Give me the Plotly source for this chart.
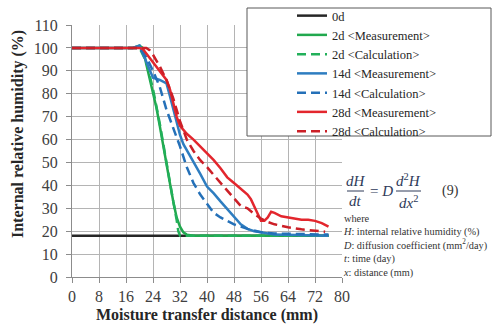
import plotly.graph_objects as go

# ---------------- data ----------------
x_0d = [0, 76]
y_0d = [18, 18]

x_2d_meas = [0, 18, 20, 21, 22, 23, 24, 25, 26, 27, 28, 29, 30, 31, 32, 33, 34, 36, 76]
y_2d_meas = [100, 100, 101, 100, 93, 87, 81, 74, 66, 57, 50, 41, 33, 26, 22, 19.5, 18.5, 18, 18]

x_2d_calc = [0, 20, 22, 24, 26, 28, 30, 31, 31.5, 32, 34, 76]
y_2d_calc = [100, 100, 94, 82, 67, 49, 33, 25, 20, 18, 18, 18]

x_14d_meas = [0, 18, 20, 22, 24, 26, 28, 29, 30, 31, 32, 33, 34, 36, 38, 40, 42, 44, 46, 48, 50, 52, 54, 56, 60, 76]
y_14d_meas = [100, 100, 101, 94, 87, 86, 84.5, 79, 73, 67, 62, 58, 55.5, 50, 45, 39.5, 36.5, 33, 29.5, 26, 23, 21, 20, 19.5, 18.5, 18]

x_14d_calc = [0, 20, 22, 24, 26, 28, 30, 32, 34, 36, 38, 40, 42, 44, 46, 48, 50, 52, 56, 60, 76]
y_14d_calc = [100, 100, 96, 90, 83, 73, 65, 57, 48, 41, 36, 32, 28, 26, 24.5, 23, 22, 21, 19.5, 19, 18.5]

x_28d_meas = [0, 20, 21, 22, 24, 26, 28, 29, 30, 31, 32, 34, 36, 38, 40, 42, 44, 46, 48, 50, 52, 53, 54, 55, 56, 57, 58, 59, 60, 62, 64, 66, 68, 70, 72, 74, 76]
y_28d_meas = [100, 100, 99.5, 97.5, 94, 90, 86, 82, 76, 70, 66, 62.5, 60, 57, 54, 51, 47.5, 43.5, 41, 38.5, 36, 34, 31, 27.5, 24.5, 24.5, 26, 28.5, 28, 26.5, 26, 25.5, 25, 25, 24.5, 23.5, 22]

x_28d_calc = [0, 22, 23, 24, 26, 28, 30, 32, 34, 36, 38, 40, 42, 44, 46, 48, 50, 52, 54, 56, 58, 60, 64, 68, 72, 75]
y_28d_calc = [100, 100, 99, 97, 92, 86, 78, 68, 60, 55, 51, 48, 44.5, 41, 37.5, 34, 31, 30, 27.5, 25.5, 24, 23, 21.7, 20.8, 20.3, 19.8]

x_ticks = [0, 8, 16, 24, 32, 40, 48, 56, 64, 72, 80]
y_ticks = [0, 10, 20, 30, 40, 50, 60, 70, 80, 90, 100, 110]

series = [
    ("0d", x_0d, y_0d, "#262626", "solid"),
    ("2d <Measurement>", x_2d_meas, y_2d_meas, "#21a84e", "solid"),
    ("2d <Calculation>", x_2d_calc, y_2d_calc, "#22b05a", "9px,5px"),
    ("14d <Measurement>", x_14d_meas, y_14d_meas, "#2e7dc0", "solid"),
    ("14d <Calculation>", x_14d_calc, y_14d_calc, "#2470b8", "9px,5px"),
    ("28d <Measurement>", x_28d_meas, y_28d_meas, "#e3262d", "solid"),
    ("28d <Calculation>", x_28d_calc, y_28d_calc, "#cc1f27", "9px,5px"),
]

# ---------------- layout helpers ----------------
W, H = 492, 327
L, R, T, B = 72, 0, 0, 50           # paper area: x 72..492, y 0..277
PLOT_R, PLOT_T = 342, 25            # plot area pixel extent
PW, PH = W - L - R, H - T - B


def px(x):
    return (x - L) / PW


def py(y):
    return (H - B - y) / PH


fig = go.Figure()
for name, xs, ys, col, dash in series:
    fig.add_trace(go.Scatter(x=xs, y=ys, mode="lines", name=name,
                             line=dict(color=col, width=2.5, dash=dash)))

serif = "Liberation Serif"
axcol = "#8c8c8c"
fig.update_xaxes(range=[0, 80], tickvals=x_ticks, showgrid=True, gridcolor="#b4b4b4",
                 domain=[0, px(PLOT_R)], automargin=False,
                 gridwidth=1, showline=True, linecolor=axcol, ticks="outside",
                 ticklen=5, tickcolor=axcol, zeroline=False,
                 tickfont=dict(family=serif, size=16, color="#404040"))
fig.update_yaxes(range=[0, 110], tickvals=y_ticks, showgrid=True, gridcolor="#b4b4b4",
                 domain=[0, py(PLOT_T)], automargin=False,
                 gridwidth=1, showline=True, linecolor=axcol, ticks="outside",
                 ticklen=5, tickcolor=axcol, zeroline=False, ticklabelstandoff=5,
                 tickfont=dict(family=serif, size=16, color="#404040"))

shapes = [
    dict(type="rect", xref="paper", yref="paper", x0=px(247), x1=px(491),
         y0=py(136), y1=py(8), line=dict(color="#595959", width=1),
         fillcolor="white", layer="above"),
    dict(type="line", xref="paper", yref="paper", x0=px(347), x1=px(364),
         y0=py(191), y1=py(191), line=dict(color="#2e3a59", width=1)),
    dict(type="line", xref="paper", yref="paper", x0=px(396), x1=px(421),
         y0=py(191), y1=py(191), line=dict(color="#2e3a59", width=1)),
]

eqc = "#2e3a59"
ann = []


def add(text, x, y, size, color="#333333", xanchor="center", family=serif, angle=0):
    ann.append(dict(text=text, x=px(x), y=py(y), xref="paper", yref="paper",
                    showarrow=False, xanchor=xanchor, yanchor="middle", align="left",
                    textangle=angle, font=dict(family=family, size=size, color=color)))


add("<b>Moisture transfer distance (mm)</b>", 207, 315, 16, "#262626")
add("<b>Internal relative humidity (%)</b>", 18, 134, 16, "#262626", angle=-90)

add("<i>dH</i>", 355.5, 181, 15, eqc)
add("<i>dt</i>", 355.5, 201, 15, eqc)
add("= <i>D</i>", 381, 191, 15, eqc)
add("<i>d</i><sup>2</sup><i>H</i>", 408.5, 180, 15, eqc)
add("<i>dx</i><sup>2</sup>", 408.5, 202, 15, eqc)
add("(9)", 450, 191, 14, "#333333")

add("where<br><i>H</i>: internal relative humidity (%)"
    "<br><i>D</i>: diffusion coefficient (mm<sup>2</sup>/day)"
    "<br><i>t</i>: time (day)<br><i>x</i>: distance (mm)",
    341, 246, 10.3, xanchor="left")

fig.update_layout(
    width=W, height=H,
    margin=dict(l=L, r=R, t=T, b=B, autoexpand=False),
    paper_bgcolor="white", plot_bgcolor="white",
    showlegend=True,
    legend=dict(x=px(292), y=py(1), xanchor="left", yanchor="top",
                bgcolor="rgba(0,0,0,0)", borderwidth=0,
                font=dict(family=serif, size=12.5, color="#262626")),
    shapes=shapes, annotations=ann,
)

fig.write_html("out.html")
